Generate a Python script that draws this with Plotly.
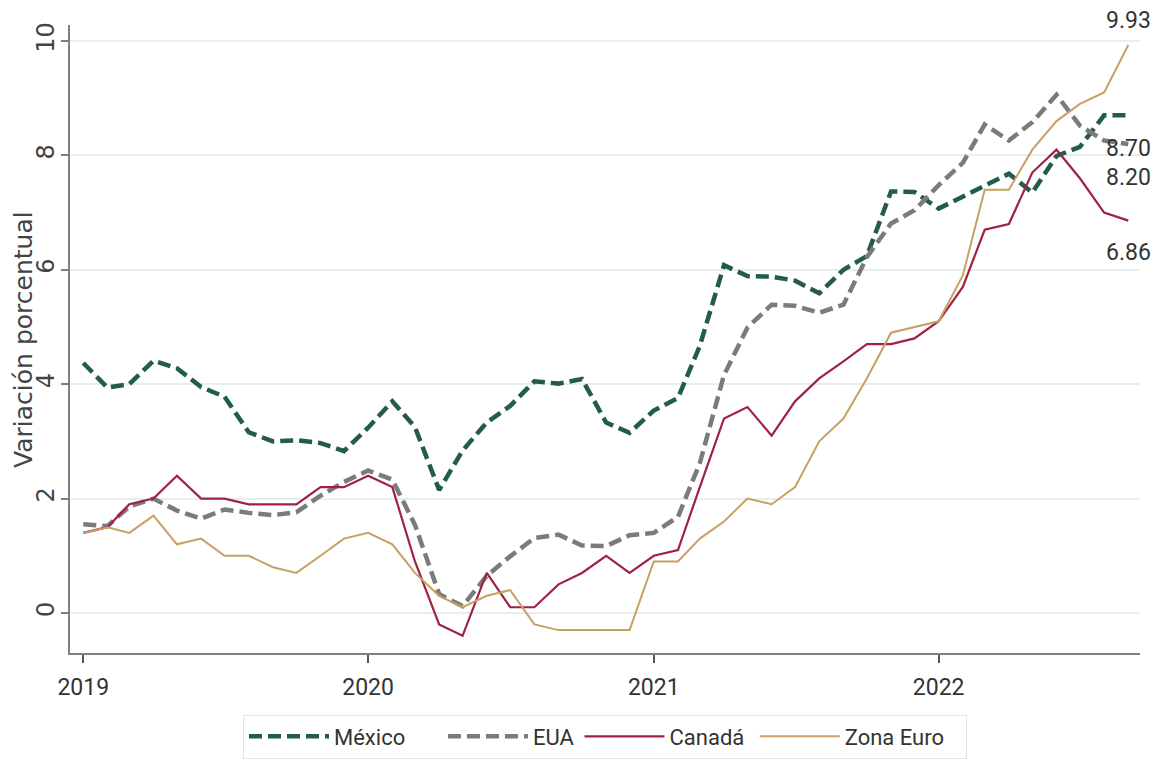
import pandas as pd
import plotly.graph_objects as go

# monthly, Jan 2019 - Sep 2022
meses = pd.date_range("2019-01-01", "2022-09-01", freq="MS")

mexico = [4.37, 3.94, 4.00, 4.41, 4.28, 3.95, 3.78, 3.16, 3.00, 3.02, 2.97, 2.83,
          3.24, 3.70, 3.25, 2.15, 2.84, 3.33, 3.62, 4.05, 4.01, 4.09, 3.33, 3.15,
          3.54, 3.76, 4.67, 6.08, 5.89, 5.88, 5.81, 5.59, 6.00, 6.24, 7.37, 7.36,
          7.07, 7.28, 7.45, 7.68, 7.35, 7.99, 8.15, 8.70, 8.70]
eua = [1.55, 1.52, 1.86, 2.00, 1.79, 1.65, 1.81, 1.75, 1.71, 1.76, 2.05, 2.29,
       2.49, 2.33, 1.54, 0.33, 0.12, 0.65, 0.99, 1.31, 1.37, 1.18, 1.17, 1.36,
       1.40, 1.68, 2.62, 4.16, 4.99, 5.39, 5.37, 5.25, 5.39, 6.22, 6.81, 7.04,
       7.48, 7.87, 8.54, 8.26, 8.58, 9.06, 8.52, 8.26, 8.20]
canada = [1.4, 1.5, 1.9, 2.0, 2.4, 2.0, 2.0, 1.9, 1.9, 1.9, 2.2, 2.2,
          2.4, 2.2, 0.9, -0.2, -0.4, 0.7, 0.1, 0.1, 0.5, 0.7, 1.0, 0.7,
          1.0, 1.1, 2.2, 3.4, 3.6, 3.1, 3.7, 4.1, 4.4, 4.7, 4.7, 4.8,
          5.1, 5.7, 6.7, 6.8, 7.7, 8.1, 7.6, 7.0, 6.86]
zona_euro = [1.4, 1.5, 1.4, 1.7, 1.2, 1.3, 1.0, 1.0, 0.8, 0.7, 1.0, 1.3,
             1.4, 1.2, 0.7, 0.3, 0.1, 0.3, 0.4, -0.2, -0.3, -0.3, -0.3, -0.3,
             0.9, 0.9, 1.3, 1.6, 2.0, 1.9, 2.2, 3.0, 3.4, 4.1, 4.9, 5.0,
             5.1, 5.9, 7.4, 7.4, 8.1, 8.6, 8.9, 9.1, 9.93]

txt_font = "Roboto"
nb = "\u00a0"  # padding so the legend entries spread like the original

series = [
    ("México", mexico, "#235B4E", 4.5, "13px,6px", -33, 6),
    ("EUA", eua, "#7b7b7b", 4.5, "13px,6px", -34, 0),
    ("Canadá", canada, "#9F2241", 2.2, "solid", -32, 1),
    ("Zona Euro", zona_euro, "#C8A064", 2.0, "solid", 25, 3),
]

fig = go.Figure()
for name, vals, color, w, dash, shift, pad in series:
    fig.add_trace(go.Scatter(x=meses, y=vals, name=name + nb * pad, mode="lines",
                             line=dict(color=color, width=w, dash=dash)))
    fig.add_annotation(x=meses[-1], y=vals[-1], text="%.2f" % vals[-1],
                       showarrow=False, yshift=shift,
                       font=dict(family=txt_font, size=23, color="#333333"))

fig.add_annotation(text="Variación porcentual", xref="paper", yref="paper",
                   x=-0.044, y=0.5, xanchor="center", yanchor="middle",
                   textangle=-90, showarrow=False,
                   font=dict(family="DejaVu Sans", size=25, color="#444444"))

fig.update_layout(
    width=1155, height=770,
    margin=dict(l=70, r=15, t=25, b=115),
    plot_bgcolor="white", paper_bgcolor="white",
    showlegend=True,
    legend=dict(orientation="h", x=0.5, xanchor="center", y=-0.098, yanchor="top",
                bordercolor="#dde6e6", borderwidth=1, itemwidth=80,
                font=dict(family=txt_font, size=22, color="#333333")),
)
fig.update_xaxes(
    range=["2018-12-15", "2022-09-16"],
    tickformat="%Y", dtick="M12", tick0="2019-01-01",
    showgrid=False, showline=True, linecolor="#7f7f7f", linewidth=2,
    ticks="outside", ticklen=8, tickwidth=1.5, tickcolor="#555555",
    ticklabelstandoff=4,
    tickfont=dict(family=txt_font, size=23, color="#333333"),
)
fig.update_yaxes(
    range=[-0.7, 10.28], tickvals=[0, 2, 4, 6, 8, 10], tickangle=-90,
    automargin=False, ticklabelstandoff=-3,
    showgrid=True, gridcolor="#e6eeee", gridwidth=1.5, zeroline=False,
    showline=True, linecolor="#7f7f7f", linewidth=2,
    ticks="outside", ticklen=7, tickwidth=1.5, tickcolor="#7f7f7f",
    tickfont=dict(family="DejaVu Sans", size=24, color="#444444"),
)

# page body has a default 8px margin; drop it so the figure fills the window
fig.write_html("out.html", config={"displayModeBar": False},
               post_script="document.body.style.margin='0';")
